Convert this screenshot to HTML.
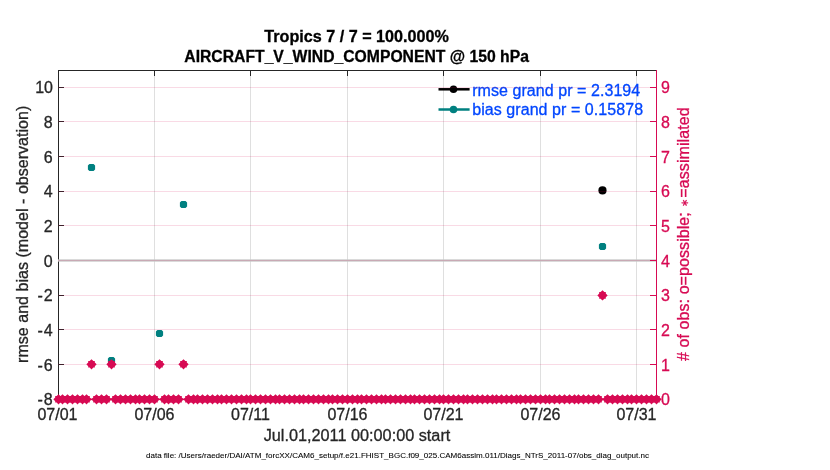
<!DOCTYPE html>
<html><head><meta charset="utf-8"><title>AIRCRAFT_V_WIND_COMPONENT @ 150 hPa</title>
<style>html,body{margin:0;padding:0;background:#fff;width:830px;height:470px;overflow:hidden}svg{display:block;will-change:transform}</style>
</head><body>
<svg width="830" height="470" viewBox="0 0 830 470" font-family='"Liberation Sans", Arial, Helvetica, sans-serif'><rect x="154" y="71" width="1" height="327" fill="#dfdfdf"/>
<rect x="250" y="71" width="1" height="327" fill="#dfdfdf"/>
<rect x="347" y="71" width="1" height="327" fill="#dfdfdf"/>
<rect x="443" y="71" width="1" height="327" fill="#dfdfdf"/>
<rect x="540" y="71" width="1" height="327" fill="#dfdfdf"/>
<rect x="636" y="71" width="1" height="327" fill="#dfdfdf"/>
<rect x="58" y="70" width="598" height="1" fill="#262626"/>
<rect x="58" y="70" width="1" height="329" fill="#262626"/>
<rect x="59" y="87" width="5" height="1" fill="#262626"/>
<rect x="59" y="121" width="5" height="1" fill="#262626"/>
<rect x="59" y="156" width="5" height="1" fill="#262626"/>
<rect x="59" y="191" width="5" height="1" fill="#262626"/>
<rect x="59" y="225" width="5" height="1" fill="#262626"/>
<rect x="59" y="260" width="5" height="1" fill="#262626"/>
<rect x="59" y="295" width="5" height="1" fill="#262626"/>
<rect x="59" y="329" width="5" height="1" fill="#262626"/>
<rect x="59" y="364" width="5" height="1" fill="#262626"/>
<rect x="154" y="71" width="1" height="5" fill="#262626"/>
<rect x="250" y="71" width="1" height="5" fill="#262626"/>
<rect x="347" y="71" width="1" height="5" fill="#262626"/>
<rect x="443" y="71" width="1" height="5" fill="#262626"/>
<rect x="540" y="71" width="1" height="5" fill="#262626"/>
<rect x="636" y="71" width="1" height="5" fill="#262626"/>
<rect x="58" y="259.36" width="598" height="2.28" fill="#c6c6c6"/>
<circle cx="602.5" cy="190.4" r="4.1" fill="#000"/>
<path d="M89.41 163.90L93.59 163.90L95.10 165.41L95.10 169.59L93.59 171.10L89.41 171.10L87.90 169.59L87.90 165.41Z" fill="#008080"/>
<path d="M109.41 356.90L113.59 356.90L115.10 358.41L115.10 362.59L113.59 364.10L109.41 364.10L107.90 362.59L107.90 358.41Z" fill="#008080"/>
<path d="M157.41 329.90L161.59 329.90L163.10 331.41L163.10 335.59L161.59 337.10L157.41 337.10L155.90 335.59L155.90 331.41Z" fill="#008080"/>
<path d="M181.41 200.90L185.59 200.90L187.10 202.41L187.10 206.59L185.59 208.10L181.41 208.10L179.90 206.59L179.90 202.41Z" fill="#008080"/>
<path d="M600.41 242.90L604.59 242.90L606.10 244.41L606.10 248.59L604.59 250.10L600.41 250.10L598.90 248.59L598.90 244.41Z" fill="#008080"/>
<rect x="438.5" y="88.05" width="31.1" height="2.5" fill="#000"/>
<circle cx="453.5" cy="89.3" r="3.8" fill="#000"/>
<rect x="438.5" y="108.25" width="31.1" height="2.5" fill="#008080"/>
<circle cx="453.5" cy="109.5" r="3.8" fill="#008080"/>
<text x="472.2" y="95.8" fill="#0046ff" stroke="#0046ff" stroke-width="0.3" font-size="16" textLength="168.0" lengthAdjust="spacing">rmse grand pr = 2.3194</text>
<text x="472.2" y="114.9" fill="#0046ff" stroke="#0046ff" stroke-width="0.3" font-size="16" textLength="170.9" lengthAdjust="spacing">bias grand pr = 0.15878</text>
<rect x="58" y="87" width="598" height="1" fill="#d70a53" fill-opacity="0.15"/>
<rect x="58" y="121" width="598" height="1" fill="#d70a53" fill-opacity="0.15"/>
<rect x="58" y="156" width="598" height="1" fill="#d70a53" fill-opacity="0.15"/>
<rect x="58" y="191" width="598" height="1" fill="#d70a53" fill-opacity="0.15"/>
<rect x="58" y="225" width="598" height="1" fill="#d70a53" fill-opacity="0.15"/>
<rect x="58" y="260" width="598" height="1" fill="#d70a53" fill-opacity="0.15"/>
<rect x="58" y="295" width="598" height="1" fill="#d70a53" fill-opacity="0.15"/>
<rect x="58" y="329" width="598" height="1" fill="#d70a53" fill-opacity="0.15"/>
<rect x="58" y="364" width="598" height="1" fill="#d70a53" fill-opacity="0.15"/>
<path d="M58.50 394.15L60.35 396.00L61.80 396.00L61.80 397.45L63.65 399.30L61.80 401.15L61.80 402.60L60.35 402.60L58.50 404.45L56.65 402.60L55.20 402.60L55.20 401.15L53.35 399.30L55.20 397.45L55.20 396.00L56.65 396.00Z" fill="#d70a53"/>
<path d="M62.50 394.15L64.35 396.00L65.80 396.00L65.80 397.45L67.65 399.30L65.80 401.15L65.80 402.60L64.35 402.60L62.50 404.45L60.65 402.60L59.20 402.60L59.20 401.15L57.35 399.30L59.20 397.45L59.20 396.00L60.65 396.00Z" fill="#d70a53"/>
<path d="M67.50 394.15L69.35 396.00L70.80 396.00L70.80 397.45L72.65 399.30L70.80 401.15L70.80 402.60L69.35 402.60L67.50 404.45L65.65 402.60L64.20 402.60L64.20 401.15L62.35 399.30L64.20 397.45L64.20 396.00L65.65 396.00Z" fill="#d70a53"/>
<path d="M72.50 394.15L74.35 396.00L75.80 396.00L75.80 397.45L77.65 399.30L75.80 401.15L75.80 402.60L74.35 402.60L72.50 404.45L70.65 402.60L69.20 402.60L69.20 401.15L67.35 399.30L69.20 397.45L69.20 396.00L70.65 396.00Z" fill="#d70a53"/>
<path d="M77.50 394.15L79.35 396.00L80.80 396.00L80.80 397.45L82.65 399.30L80.80 401.15L80.80 402.60L79.35 402.60L77.50 404.45L75.65 402.60L74.20 402.60L74.20 401.15L72.35 399.30L74.20 397.45L74.20 396.00L75.65 396.00Z" fill="#d70a53"/>
<path d="M82.50 394.15L84.35 396.00L85.80 396.00L85.80 397.45L87.65 399.30L85.80 401.15L85.80 402.60L84.35 402.60L82.50 404.45L80.65 402.60L79.20 402.60L79.20 401.15L77.35 399.30L79.20 397.45L79.20 396.00L80.65 396.00Z" fill="#d70a53"/>
<path d="M86.50 394.15L88.35 396.00L89.80 396.00L89.80 397.45L91.65 399.30L89.80 401.15L89.80 402.60L88.35 402.60L86.50 404.45L84.65 402.60L83.20 402.60L83.20 401.15L81.35 399.30L83.20 397.45L83.20 396.00L84.65 396.00Z" fill="#d70a53"/>
<path d="M91.50 359.15L93.35 361.00L94.80 361.00L94.80 362.45L96.65 364.30L94.80 366.15L94.80 367.60L93.35 367.60L91.50 369.45L89.65 367.60L88.20 367.60L88.20 366.15L86.35 364.30L88.20 362.45L88.20 361.00L89.65 361.00Z" fill="#d70a53"/>
<path d="M96.50 394.15L98.35 396.00L99.80 396.00L99.80 397.45L101.65 399.30L99.80 401.15L99.80 402.60L98.35 402.60L96.50 404.45L94.65 402.60L93.20 402.60L93.20 401.15L91.35 399.30L93.20 397.45L93.20 396.00L94.65 396.00Z" fill="#d70a53"/>
<path d="M101.50 394.15L103.35 396.00L104.80 396.00L104.80 397.45L106.65 399.30L104.80 401.15L104.80 402.60L103.35 402.60L101.50 404.45L99.65 402.60L98.20 402.60L98.20 401.15L96.35 399.30L98.20 397.45L98.20 396.00L99.65 396.00Z" fill="#d70a53"/>
<path d="M106.50 394.15L108.35 396.00L109.80 396.00L109.80 397.45L111.65 399.30L109.80 401.15L109.80 402.60L108.35 402.60L106.50 404.45L104.65 402.60L103.20 402.60L103.20 401.15L101.35 399.30L103.20 397.45L103.20 396.00L104.65 396.00Z" fill="#d70a53"/>
<path d="M111.50 359.15L113.35 361.00L114.80 361.00L114.80 362.45L116.65 364.30L114.80 366.15L114.80 367.60L113.35 367.60L111.50 369.45L109.65 367.60L108.20 367.60L108.20 366.15L106.35 364.30L108.20 362.45L108.20 361.00L109.65 361.00Z" fill="#d70a53"/>
<path d="M115.50 394.15L117.35 396.00L118.80 396.00L118.80 397.45L120.65 399.30L118.80 401.15L118.80 402.60L117.35 402.60L115.50 404.45L113.65 402.60L112.20 402.60L112.20 401.15L110.35 399.30L112.20 397.45L112.20 396.00L113.65 396.00Z" fill="#d70a53"/>
<path d="M120.50 394.15L122.35 396.00L123.80 396.00L123.80 397.45L125.65 399.30L123.80 401.15L123.80 402.60L122.35 402.60L120.50 404.45L118.65 402.60L117.20 402.60L117.20 401.15L115.35 399.30L117.20 397.45L117.20 396.00L118.65 396.00Z" fill="#d70a53"/>
<path d="M125.50 394.15L127.35 396.00L128.80 396.00L128.80 397.45L130.65 399.30L128.80 401.15L128.80 402.60L127.35 402.60L125.50 404.45L123.65 402.60L122.20 402.60L122.20 401.15L120.35 399.30L122.20 397.45L122.20 396.00L123.65 396.00Z" fill="#d70a53"/>
<path d="M130.50 394.15L132.35 396.00L133.80 396.00L133.80 397.45L135.65 399.30L133.80 401.15L133.80 402.60L132.35 402.60L130.50 404.45L128.65 402.60L127.20 402.60L127.20 401.15L125.35 399.30L127.20 397.45L127.20 396.00L128.65 396.00Z" fill="#d70a53"/>
<path d="M135.50 394.15L137.35 396.00L138.80 396.00L138.80 397.45L140.65 399.30L138.80 401.15L138.80 402.60L137.35 402.60L135.50 404.45L133.65 402.60L132.20 402.60L132.20 401.15L130.35 399.30L132.20 397.45L132.20 396.00L133.65 396.00Z" fill="#d70a53"/>
<path d="M139.50 394.15L141.35 396.00L142.80 396.00L142.80 397.45L144.65 399.30L142.80 401.15L142.80 402.60L141.35 402.60L139.50 404.45L137.65 402.60L136.20 402.60L136.20 401.15L134.35 399.30L136.20 397.45L136.20 396.00L137.65 396.00Z" fill="#d70a53"/>
<path d="M144.50 394.15L146.35 396.00L147.80 396.00L147.80 397.45L149.65 399.30L147.80 401.15L147.80 402.60L146.35 402.60L144.50 404.45L142.65 402.60L141.20 402.60L141.20 401.15L139.35 399.30L141.20 397.45L141.20 396.00L142.65 396.00Z" fill="#d70a53"/>
<path d="M149.50 394.15L151.35 396.00L152.80 396.00L152.80 397.45L154.65 399.30L152.80 401.15L152.80 402.60L151.35 402.60L149.50 404.45L147.65 402.60L146.20 402.60L146.20 401.15L144.35 399.30L146.20 397.45L146.20 396.00L147.65 396.00Z" fill="#d70a53"/>
<path d="M154.50 394.15L156.35 396.00L157.80 396.00L157.80 397.45L159.65 399.30L157.80 401.15L157.80 402.60L156.35 402.60L154.50 404.45L152.65 402.60L151.20 402.60L151.20 401.15L149.35 399.30L151.20 397.45L151.20 396.00L152.65 396.00Z" fill="#d70a53"/>
<path d="M159.50 359.15L161.35 361.00L162.80 361.00L162.80 362.45L164.65 364.30L162.80 366.15L162.80 367.60L161.35 367.60L159.50 369.45L157.65 367.60L156.20 367.60L156.20 366.15L154.35 364.30L156.20 362.45L156.20 361.00L157.65 361.00Z" fill="#d70a53"/>
<path d="M164.50 394.15L166.35 396.00L167.80 396.00L167.80 397.45L169.65 399.30L167.80 401.15L167.80 402.60L166.35 402.60L164.50 404.45L162.65 402.60L161.20 402.60L161.20 401.15L159.35 399.30L161.20 397.45L161.20 396.00L162.65 396.00Z" fill="#d70a53"/>
<path d="M168.50 394.15L170.35 396.00L171.80 396.00L171.80 397.45L173.65 399.30L171.80 401.15L171.80 402.60L170.35 402.60L168.50 404.45L166.65 402.60L165.20 402.60L165.20 401.15L163.35 399.30L165.20 397.45L165.20 396.00L166.65 396.00Z" fill="#d70a53"/>
<path d="M173.50 394.15L175.35 396.00L176.80 396.00L176.80 397.45L178.65 399.30L176.80 401.15L176.80 402.60L175.35 402.60L173.50 404.45L171.65 402.60L170.20 402.60L170.20 401.15L168.35 399.30L170.20 397.45L170.20 396.00L171.65 396.00Z" fill="#d70a53"/>
<path d="M178.50 394.15L180.35 396.00L181.80 396.00L181.80 397.45L183.65 399.30L181.80 401.15L181.80 402.60L180.35 402.60L178.50 404.45L176.65 402.60L175.20 402.60L175.20 401.15L173.35 399.30L175.20 397.45L175.20 396.00L176.65 396.00Z" fill="#d70a53"/>
<path d="M183.50 359.15L185.35 361.00L186.80 361.00L186.80 362.45L188.65 364.30L186.80 366.15L186.80 367.60L185.35 367.60L183.50 369.45L181.65 367.60L180.20 367.60L180.20 366.15L178.35 364.30L180.20 362.45L180.20 361.00L181.65 361.00Z" fill="#d70a53"/>
<path d="M188.50 394.15L190.35 396.00L191.80 396.00L191.80 397.45L193.65 399.30L191.80 401.15L191.80 402.60L190.35 402.60L188.50 404.45L186.65 402.60L185.20 402.60L185.20 401.15L183.35 399.30L185.20 397.45L185.20 396.00L186.65 396.00Z" fill="#d70a53"/>
<path d="M193.50 394.15L195.35 396.00L196.80 396.00L196.80 397.45L198.65 399.30L196.80 401.15L196.80 402.60L195.35 402.60L193.50 404.45L191.65 402.60L190.20 402.60L190.20 401.15L188.35 399.30L190.20 397.45L190.20 396.00L191.65 396.00Z" fill="#d70a53"/>
<path d="M197.50 394.15L199.35 396.00L200.80 396.00L200.80 397.45L202.65 399.30L200.80 401.15L200.80 402.60L199.35 402.60L197.50 404.45L195.65 402.60L194.20 402.60L194.20 401.15L192.35 399.30L194.20 397.45L194.20 396.00L195.65 396.00Z" fill="#d70a53"/>
<path d="M202.50 394.15L204.35 396.00L205.80 396.00L205.80 397.45L207.65 399.30L205.80 401.15L205.80 402.60L204.35 402.60L202.50 404.45L200.65 402.60L199.20 402.60L199.20 401.15L197.35 399.30L199.20 397.45L199.20 396.00L200.65 396.00Z" fill="#d70a53"/>
<path d="M207.50 394.15L209.35 396.00L210.80 396.00L210.80 397.45L212.65 399.30L210.80 401.15L210.80 402.60L209.35 402.60L207.50 404.45L205.65 402.60L204.20 402.60L204.20 401.15L202.35 399.30L204.20 397.45L204.20 396.00L205.65 396.00Z" fill="#d70a53"/>
<path d="M212.50 394.15L214.35 396.00L215.80 396.00L215.80 397.45L217.65 399.30L215.80 401.15L215.80 402.60L214.35 402.60L212.50 404.45L210.65 402.60L209.20 402.60L209.20 401.15L207.35 399.30L209.20 397.45L209.20 396.00L210.65 396.00Z" fill="#d70a53"/>
<path d="M217.50 394.15L219.35 396.00L220.80 396.00L220.80 397.45L222.65 399.30L220.80 401.15L220.80 402.60L219.35 402.60L217.50 404.45L215.65 402.60L214.20 402.60L214.20 401.15L212.35 399.30L214.20 397.45L214.20 396.00L215.65 396.00Z" fill="#d70a53"/>
<path d="M221.50 394.15L223.35 396.00L224.80 396.00L224.80 397.45L226.65 399.30L224.80 401.15L224.80 402.60L223.35 402.60L221.50 404.45L219.65 402.60L218.20 402.60L218.20 401.15L216.35 399.30L218.20 397.45L218.20 396.00L219.65 396.00Z" fill="#d70a53"/>
<path d="M226.50 394.15L228.35 396.00L229.80 396.00L229.80 397.45L231.65 399.30L229.80 401.15L229.80 402.60L228.35 402.60L226.50 404.45L224.65 402.60L223.20 402.60L223.20 401.15L221.35 399.30L223.20 397.45L223.20 396.00L224.65 396.00Z" fill="#d70a53"/>
<path d="M231.50 394.15L233.35 396.00L234.80 396.00L234.80 397.45L236.65 399.30L234.80 401.15L234.80 402.60L233.35 402.60L231.50 404.45L229.65 402.60L228.20 402.60L228.20 401.15L226.35 399.30L228.20 397.45L228.20 396.00L229.65 396.00Z" fill="#d70a53"/>
<path d="M236.50 394.15L238.35 396.00L239.80 396.00L239.80 397.45L241.65 399.30L239.80 401.15L239.80 402.60L238.35 402.60L236.50 404.45L234.65 402.60L233.20 402.60L233.20 401.15L231.35 399.30L233.20 397.45L233.20 396.00L234.65 396.00Z" fill="#d70a53"/>
<path d="M241.50 394.15L243.35 396.00L244.80 396.00L244.80 397.45L246.65 399.30L244.80 401.15L244.80 402.60L243.35 402.60L241.50 404.45L239.65 402.60L238.20 402.60L238.20 401.15L236.35 399.30L238.20 397.45L238.20 396.00L239.65 396.00Z" fill="#d70a53"/>
<path d="M246.50 394.15L248.35 396.00L249.80 396.00L249.80 397.45L251.65 399.30L249.80 401.15L249.80 402.60L248.35 402.60L246.50 404.45L244.65 402.60L243.20 402.60L243.20 401.15L241.35 399.30L243.20 397.45L243.20 396.00L244.65 396.00Z" fill="#d70a53"/>
<path d="M250.50 394.15L252.35 396.00L253.80 396.00L253.80 397.45L255.65 399.30L253.80 401.15L253.80 402.60L252.35 402.60L250.50 404.45L248.65 402.60L247.20 402.60L247.20 401.15L245.35 399.30L247.20 397.45L247.20 396.00L248.65 396.00Z" fill="#d70a53"/>
<path d="M255.50 394.15L257.35 396.00L258.80 396.00L258.80 397.45L260.65 399.30L258.80 401.15L258.80 402.60L257.35 402.60L255.50 404.45L253.65 402.60L252.20 402.60L252.20 401.15L250.35 399.30L252.20 397.45L252.20 396.00L253.65 396.00Z" fill="#d70a53"/>
<path d="M260.50 394.15L262.35 396.00L263.80 396.00L263.80 397.45L265.65 399.30L263.80 401.15L263.80 402.60L262.35 402.60L260.50 404.45L258.65 402.60L257.20 402.60L257.20 401.15L255.35 399.30L257.20 397.45L257.20 396.00L258.65 396.00Z" fill="#d70a53"/>
<path d="M265.50 394.15L267.35 396.00L268.80 396.00L268.80 397.45L270.65 399.30L268.80 401.15L268.80 402.60L267.35 402.60L265.50 404.45L263.65 402.60L262.20 402.60L262.20 401.15L260.35 399.30L262.20 397.45L262.20 396.00L263.65 396.00Z" fill="#d70a53"/>
<path d="M270.50 394.15L272.35 396.00L273.80 396.00L273.80 397.45L275.65 399.30L273.80 401.15L273.80 402.60L272.35 402.60L270.50 404.45L268.65 402.60L267.20 402.60L267.20 401.15L265.35 399.30L267.20 397.45L267.20 396.00L268.65 396.00Z" fill="#d70a53"/>
<path d="M275.50 394.15L277.35 396.00L278.80 396.00L278.80 397.45L280.65 399.30L278.80 401.15L278.80 402.60L277.35 402.60L275.50 404.45L273.65 402.60L272.20 402.60L272.20 401.15L270.35 399.30L272.20 397.45L272.20 396.00L273.65 396.00Z" fill="#d70a53"/>
<path d="M279.50 394.15L281.35 396.00L282.80 396.00L282.80 397.45L284.65 399.30L282.80 401.15L282.80 402.60L281.35 402.60L279.50 404.45L277.65 402.60L276.20 402.60L276.20 401.15L274.35 399.30L276.20 397.45L276.20 396.00L277.65 396.00Z" fill="#d70a53"/>
<path d="M284.50 394.15L286.35 396.00L287.80 396.00L287.80 397.45L289.65 399.30L287.80 401.15L287.80 402.60L286.35 402.60L284.50 404.45L282.65 402.60L281.20 402.60L281.20 401.15L279.35 399.30L281.20 397.45L281.20 396.00L282.65 396.00Z" fill="#d70a53"/>
<path d="M289.50 394.15L291.35 396.00L292.80 396.00L292.80 397.45L294.65 399.30L292.80 401.15L292.80 402.60L291.35 402.60L289.50 404.45L287.65 402.60L286.20 402.60L286.20 401.15L284.35 399.30L286.20 397.45L286.20 396.00L287.65 396.00Z" fill="#d70a53"/>
<path d="M294.50 394.15L296.35 396.00L297.80 396.00L297.80 397.45L299.65 399.30L297.80 401.15L297.80 402.60L296.35 402.60L294.50 404.45L292.65 402.60L291.20 402.60L291.20 401.15L289.35 399.30L291.20 397.45L291.20 396.00L292.65 396.00Z" fill="#d70a53"/>
<path d="M299.50 394.15L301.35 396.00L302.80 396.00L302.80 397.45L304.65 399.30L302.80 401.15L302.80 402.60L301.35 402.60L299.50 404.45L297.65 402.60L296.20 402.60L296.20 401.15L294.35 399.30L296.20 397.45L296.20 396.00L297.65 396.00Z" fill="#d70a53"/>
<path d="M303.50 394.15L305.35 396.00L306.80 396.00L306.80 397.45L308.65 399.30L306.80 401.15L306.80 402.60L305.35 402.60L303.50 404.45L301.65 402.60L300.20 402.60L300.20 401.15L298.35 399.30L300.20 397.45L300.20 396.00L301.65 396.00Z" fill="#d70a53"/>
<path d="M308.50 394.15L310.35 396.00L311.80 396.00L311.80 397.45L313.65 399.30L311.80 401.15L311.80 402.60L310.35 402.60L308.50 404.45L306.65 402.60L305.20 402.60L305.20 401.15L303.35 399.30L305.20 397.45L305.20 396.00L306.65 396.00Z" fill="#d70a53"/>
<path d="M313.50 394.15L315.35 396.00L316.80 396.00L316.80 397.45L318.65 399.30L316.80 401.15L316.80 402.60L315.35 402.60L313.50 404.45L311.65 402.60L310.20 402.60L310.20 401.15L308.35 399.30L310.20 397.45L310.20 396.00L311.65 396.00Z" fill="#d70a53"/>
<path d="M318.50 394.15L320.35 396.00L321.80 396.00L321.80 397.45L323.65 399.30L321.80 401.15L321.80 402.60L320.35 402.60L318.50 404.45L316.65 402.60L315.20 402.60L315.20 401.15L313.35 399.30L315.20 397.45L315.20 396.00L316.65 396.00Z" fill="#d70a53"/>
<path d="M323.50 394.15L325.35 396.00L326.80 396.00L326.80 397.45L328.65 399.30L326.80 401.15L326.80 402.60L325.35 402.60L323.50 404.45L321.65 402.60L320.20 402.60L320.20 401.15L318.35 399.30L320.20 397.45L320.20 396.00L321.65 396.00Z" fill="#d70a53"/>
<path d="M328.50 394.15L330.35 396.00L331.80 396.00L331.80 397.45L333.65 399.30L331.80 401.15L331.80 402.60L330.35 402.60L328.50 404.45L326.65 402.60L325.20 402.60L325.20 401.15L323.35 399.30L325.20 397.45L325.20 396.00L326.65 396.00Z" fill="#d70a53"/>
<path d="M332.50 394.15L334.35 396.00L335.80 396.00L335.80 397.45L337.65 399.30L335.80 401.15L335.80 402.60L334.35 402.60L332.50 404.45L330.65 402.60L329.20 402.60L329.20 401.15L327.35 399.30L329.20 397.45L329.20 396.00L330.65 396.00Z" fill="#d70a53"/>
<path d="M337.50 394.15L339.35 396.00L340.80 396.00L340.80 397.45L342.65 399.30L340.80 401.15L340.80 402.60L339.35 402.60L337.50 404.45L335.65 402.60L334.20 402.60L334.20 401.15L332.35 399.30L334.20 397.45L334.20 396.00L335.65 396.00Z" fill="#d70a53"/>
<path d="M342.50 394.15L344.35 396.00L345.80 396.00L345.80 397.45L347.65 399.30L345.80 401.15L345.80 402.60L344.35 402.60L342.50 404.45L340.65 402.60L339.20 402.60L339.20 401.15L337.35 399.30L339.20 397.45L339.20 396.00L340.65 396.00Z" fill="#d70a53"/>
<path d="M347.50 394.15L349.35 396.00L350.80 396.00L350.80 397.45L352.65 399.30L350.80 401.15L350.80 402.60L349.35 402.60L347.50 404.45L345.65 402.60L344.20 402.60L344.20 401.15L342.35 399.30L344.20 397.45L344.20 396.00L345.65 396.00Z" fill="#d70a53"/>
<path d="M352.50 394.15L354.35 396.00L355.80 396.00L355.80 397.45L357.65 399.30L355.80 401.15L355.80 402.60L354.35 402.60L352.50 404.45L350.65 402.60L349.20 402.60L349.20 401.15L347.35 399.30L349.20 397.45L349.20 396.00L350.65 396.00Z" fill="#d70a53"/>
<path d="M357.50 394.15L359.35 396.00L360.80 396.00L360.80 397.45L362.65 399.30L360.80 401.15L360.80 402.60L359.35 402.60L357.50 404.45L355.65 402.60L354.20 402.60L354.20 401.15L352.35 399.30L354.20 397.45L354.20 396.00L355.65 396.00Z" fill="#d70a53"/>
<path d="M361.50 394.15L363.35 396.00L364.80 396.00L364.80 397.45L366.65 399.30L364.80 401.15L364.80 402.60L363.35 402.60L361.50 404.45L359.65 402.60L358.20 402.60L358.20 401.15L356.35 399.30L358.20 397.45L358.20 396.00L359.65 396.00Z" fill="#d70a53"/>
<path d="M366.50 394.15L368.35 396.00L369.80 396.00L369.80 397.45L371.65 399.30L369.80 401.15L369.80 402.60L368.35 402.60L366.50 404.45L364.65 402.60L363.20 402.60L363.20 401.15L361.35 399.30L363.20 397.45L363.20 396.00L364.65 396.00Z" fill="#d70a53"/>
<path d="M371.50 394.15L373.35 396.00L374.80 396.00L374.80 397.45L376.65 399.30L374.80 401.15L374.80 402.60L373.35 402.60L371.50 404.45L369.65 402.60L368.20 402.60L368.20 401.15L366.35 399.30L368.20 397.45L368.20 396.00L369.65 396.00Z" fill="#d70a53"/>
<path d="M376.50 394.15L378.35 396.00L379.80 396.00L379.80 397.45L381.65 399.30L379.80 401.15L379.80 402.60L378.35 402.60L376.50 404.45L374.65 402.60L373.20 402.60L373.20 401.15L371.35 399.30L373.20 397.45L373.20 396.00L374.65 396.00Z" fill="#d70a53"/>
<path d="M381.50 394.15L383.35 396.00L384.80 396.00L384.80 397.45L386.65 399.30L384.80 401.15L384.80 402.60L383.35 402.60L381.50 404.45L379.65 402.60L378.20 402.60L378.20 401.15L376.35 399.30L378.20 397.45L378.20 396.00L379.65 396.00Z" fill="#d70a53"/>
<path d="M385.50 394.15L387.35 396.00L388.80 396.00L388.80 397.45L390.65 399.30L388.80 401.15L388.80 402.60L387.35 402.60L385.50 404.45L383.65 402.60L382.20 402.60L382.20 401.15L380.35 399.30L382.20 397.45L382.20 396.00L383.65 396.00Z" fill="#d70a53"/>
<path d="M390.50 394.15L392.35 396.00L393.80 396.00L393.80 397.45L395.65 399.30L393.80 401.15L393.80 402.60L392.35 402.60L390.50 404.45L388.65 402.60L387.20 402.60L387.20 401.15L385.35 399.30L387.20 397.45L387.20 396.00L388.65 396.00Z" fill="#d70a53"/>
<path d="M395.50 394.15L397.35 396.00L398.80 396.00L398.80 397.45L400.65 399.30L398.80 401.15L398.80 402.60L397.35 402.60L395.50 404.45L393.65 402.60L392.20 402.60L392.20 401.15L390.35 399.30L392.20 397.45L392.20 396.00L393.65 396.00Z" fill="#d70a53"/>
<path d="M400.50 394.15L402.35 396.00L403.80 396.00L403.80 397.45L405.65 399.30L403.80 401.15L403.80 402.60L402.35 402.60L400.50 404.45L398.65 402.60L397.20 402.60L397.20 401.15L395.35 399.30L397.20 397.45L397.20 396.00L398.65 396.00Z" fill="#d70a53"/>
<path d="M405.50 394.15L407.35 396.00L408.80 396.00L408.80 397.45L410.65 399.30L408.80 401.15L408.80 402.60L407.35 402.60L405.50 404.45L403.65 402.60L402.20 402.60L402.20 401.15L400.35 399.30L402.20 397.45L402.20 396.00L403.65 396.00Z" fill="#d70a53"/>
<path d="M410.50 394.15L412.35 396.00L413.80 396.00L413.80 397.45L415.65 399.30L413.80 401.15L413.80 402.60L412.35 402.60L410.50 404.45L408.65 402.60L407.20 402.60L407.20 401.15L405.35 399.30L407.20 397.45L407.20 396.00L408.65 396.00Z" fill="#d70a53"/>
<path d="M414.50 394.15L416.35 396.00L417.80 396.00L417.80 397.45L419.65 399.30L417.80 401.15L417.80 402.60L416.35 402.60L414.50 404.45L412.65 402.60L411.20 402.60L411.20 401.15L409.35 399.30L411.20 397.45L411.20 396.00L412.65 396.00Z" fill="#d70a53"/>
<path d="M419.50 394.15L421.35 396.00L422.80 396.00L422.80 397.45L424.65 399.30L422.80 401.15L422.80 402.60L421.35 402.60L419.50 404.45L417.65 402.60L416.20 402.60L416.20 401.15L414.35 399.30L416.20 397.45L416.20 396.00L417.65 396.00Z" fill="#d70a53"/>
<path d="M424.50 394.15L426.35 396.00L427.80 396.00L427.80 397.45L429.65 399.30L427.80 401.15L427.80 402.60L426.35 402.60L424.50 404.45L422.65 402.60L421.20 402.60L421.20 401.15L419.35 399.30L421.20 397.45L421.20 396.00L422.65 396.00Z" fill="#d70a53"/>
<path d="M429.50 394.15L431.35 396.00L432.80 396.00L432.80 397.45L434.65 399.30L432.80 401.15L432.80 402.60L431.35 402.60L429.50 404.45L427.65 402.60L426.20 402.60L426.20 401.15L424.35 399.30L426.20 397.45L426.20 396.00L427.65 396.00Z" fill="#d70a53"/>
<path d="M434.50 394.15L436.35 396.00L437.80 396.00L437.80 397.45L439.65 399.30L437.80 401.15L437.80 402.60L436.35 402.60L434.50 404.45L432.65 402.60L431.20 402.60L431.20 401.15L429.35 399.30L431.20 397.45L431.20 396.00L432.65 396.00Z" fill="#d70a53"/>
<path d="M439.50 394.15L441.35 396.00L442.80 396.00L442.80 397.45L444.65 399.30L442.80 401.15L442.80 402.60L441.35 402.60L439.50 404.45L437.65 402.60L436.20 402.60L436.20 401.15L434.35 399.30L436.20 397.45L436.20 396.00L437.65 396.00Z" fill="#d70a53"/>
<path d="M443.50 394.15L445.35 396.00L446.80 396.00L446.80 397.45L448.65 399.30L446.80 401.15L446.80 402.60L445.35 402.60L443.50 404.45L441.65 402.60L440.20 402.60L440.20 401.15L438.35 399.30L440.20 397.45L440.20 396.00L441.65 396.00Z" fill="#d70a53"/>
<path d="M448.50 394.15L450.35 396.00L451.80 396.00L451.80 397.45L453.65 399.30L451.80 401.15L451.80 402.60L450.35 402.60L448.50 404.45L446.65 402.60L445.20 402.60L445.20 401.15L443.35 399.30L445.20 397.45L445.20 396.00L446.65 396.00Z" fill="#d70a53"/>
<path d="M453.50 394.15L455.35 396.00L456.80 396.00L456.80 397.45L458.65 399.30L456.80 401.15L456.80 402.60L455.35 402.60L453.50 404.45L451.65 402.60L450.20 402.60L450.20 401.15L448.35 399.30L450.20 397.45L450.20 396.00L451.65 396.00Z" fill="#d70a53"/>
<path d="M458.50 394.15L460.35 396.00L461.80 396.00L461.80 397.45L463.65 399.30L461.80 401.15L461.80 402.60L460.35 402.60L458.50 404.45L456.65 402.60L455.20 402.60L455.20 401.15L453.35 399.30L455.20 397.45L455.20 396.00L456.65 396.00Z" fill="#d70a53"/>
<path d="M463.50 394.15L465.35 396.00L466.80 396.00L466.80 397.45L468.65 399.30L466.80 401.15L466.80 402.60L465.35 402.60L463.50 404.45L461.65 402.60L460.20 402.60L460.20 401.15L458.35 399.30L460.20 397.45L460.20 396.00L461.65 396.00Z" fill="#d70a53"/>
<path d="M467.50 394.15L469.35 396.00L470.80 396.00L470.80 397.45L472.65 399.30L470.80 401.15L470.80 402.60L469.35 402.60L467.50 404.45L465.65 402.60L464.20 402.60L464.20 401.15L462.35 399.30L464.20 397.45L464.20 396.00L465.65 396.00Z" fill="#d70a53"/>
<path d="M472.50 394.15L474.35 396.00L475.80 396.00L475.80 397.45L477.65 399.30L475.80 401.15L475.80 402.60L474.35 402.60L472.50 404.45L470.65 402.60L469.20 402.60L469.20 401.15L467.35 399.30L469.20 397.45L469.20 396.00L470.65 396.00Z" fill="#d70a53"/>
<path d="M477.50 394.15L479.35 396.00L480.80 396.00L480.80 397.45L482.65 399.30L480.80 401.15L480.80 402.60L479.35 402.60L477.50 404.45L475.65 402.60L474.20 402.60L474.20 401.15L472.35 399.30L474.20 397.45L474.20 396.00L475.65 396.00Z" fill="#d70a53"/>
<path d="M482.50 394.15L484.35 396.00L485.80 396.00L485.80 397.45L487.65 399.30L485.80 401.15L485.80 402.60L484.35 402.60L482.50 404.45L480.65 402.60L479.20 402.60L479.20 401.15L477.35 399.30L479.20 397.45L479.20 396.00L480.65 396.00Z" fill="#d70a53"/>
<path d="M487.50 394.15L489.35 396.00L490.80 396.00L490.80 397.45L492.65 399.30L490.80 401.15L490.80 402.60L489.35 402.60L487.50 404.45L485.65 402.60L484.20 402.60L484.20 401.15L482.35 399.30L484.20 397.45L484.20 396.00L485.65 396.00Z" fill="#d70a53"/>
<path d="M492.50 394.15L494.35 396.00L495.80 396.00L495.80 397.45L497.65 399.30L495.80 401.15L495.80 402.60L494.35 402.60L492.50 404.45L490.65 402.60L489.20 402.60L489.20 401.15L487.35 399.30L489.20 397.45L489.20 396.00L490.65 396.00Z" fill="#d70a53"/>
<path d="M496.50 394.15L498.35 396.00L499.80 396.00L499.80 397.45L501.65 399.30L499.80 401.15L499.80 402.60L498.35 402.60L496.50 404.45L494.65 402.60L493.20 402.60L493.20 401.15L491.35 399.30L493.20 397.45L493.20 396.00L494.65 396.00Z" fill="#d70a53"/>
<path d="M501.50 394.15L503.35 396.00L504.80 396.00L504.80 397.45L506.65 399.30L504.80 401.15L504.80 402.60L503.35 402.60L501.50 404.45L499.65 402.60L498.20 402.60L498.20 401.15L496.35 399.30L498.20 397.45L498.20 396.00L499.65 396.00Z" fill="#d70a53"/>
<path d="M506.50 394.15L508.35 396.00L509.80 396.00L509.80 397.45L511.65 399.30L509.80 401.15L509.80 402.60L508.35 402.60L506.50 404.45L504.65 402.60L503.20 402.60L503.20 401.15L501.35 399.30L503.20 397.45L503.20 396.00L504.65 396.00Z" fill="#d70a53"/>
<path d="M511.50 394.15L513.35 396.00L514.80 396.00L514.80 397.45L516.65 399.30L514.80 401.15L514.80 402.60L513.35 402.60L511.50 404.45L509.65 402.60L508.20 402.60L508.20 401.15L506.35 399.30L508.20 397.45L508.20 396.00L509.65 396.00Z" fill="#d70a53"/>
<path d="M516.50 394.15L518.35 396.00L519.80 396.00L519.80 397.45L521.65 399.30L519.80 401.15L519.80 402.60L518.35 402.60L516.50 404.45L514.65 402.60L513.20 402.60L513.20 401.15L511.35 399.30L513.20 397.45L513.20 396.00L514.65 396.00Z" fill="#d70a53"/>
<path d="M520.50 394.15L522.35 396.00L523.80 396.00L523.80 397.45L525.65 399.30L523.80 401.15L523.80 402.60L522.35 402.60L520.50 404.45L518.65 402.60L517.20 402.60L517.20 401.15L515.35 399.30L517.20 397.45L517.20 396.00L518.65 396.00Z" fill="#d70a53"/>
<path d="M525.50 394.15L527.35 396.00L528.80 396.00L528.80 397.45L530.65 399.30L528.80 401.15L528.80 402.60L527.35 402.60L525.50 404.45L523.65 402.60L522.20 402.60L522.20 401.15L520.35 399.30L522.20 397.45L522.20 396.00L523.65 396.00Z" fill="#d70a53"/>
<path d="M530.50 394.15L532.35 396.00L533.80 396.00L533.80 397.45L535.65 399.30L533.80 401.15L533.80 402.60L532.35 402.60L530.50 404.45L528.65 402.60L527.20 402.60L527.20 401.15L525.35 399.30L527.20 397.45L527.20 396.00L528.65 396.00Z" fill="#d70a53"/>
<path d="M535.50 394.15L537.35 396.00L538.80 396.00L538.80 397.45L540.65 399.30L538.80 401.15L538.80 402.60L537.35 402.60L535.50 404.45L533.65 402.60L532.20 402.60L532.20 401.15L530.35 399.30L532.20 397.45L532.20 396.00L533.65 396.00Z" fill="#d70a53"/>
<path d="M540.50 394.15L542.35 396.00L543.80 396.00L543.80 397.45L545.65 399.30L543.80 401.15L543.80 402.60L542.35 402.60L540.50 404.45L538.65 402.60L537.20 402.60L537.20 401.15L535.35 399.30L537.20 397.45L537.20 396.00L538.65 396.00Z" fill="#d70a53"/>
<path d="M545.50 394.15L547.35 396.00L548.80 396.00L548.80 397.45L550.65 399.30L548.80 401.15L548.80 402.60L547.35 402.60L545.50 404.45L543.65 402.60L542.20 402.60L542.20 401.15L540.35 399.30L542.20 397.45L542.20 396.00L543.65 396.00Z" fill="#d70a53"/>
<path d="M549.50 394.15L551.35 396.00L552.80 396.00L552.80 397.45L554.65 399.30L552.80 401.15L552.80 402.60L551.35 402.60L549.50 404.45L547.65 402.60L546.20 402.60L546.20 401.15L544.35 399.30L546.20 397.45L546.20 396.00L547.65 396.00Z" fill="#d70a53"/>
<path d="M554.50 394.15L556.35 396.00L557.80 396.00L557.80 397.45L559.65 399.30L557.80 401.15L557.80 402.60L556.35 402.60L554.50 404.45L552.65 402.60L551.20 402.60L551.20 401.15L549.35 399.30L551.20 397.45L551.20 396.00L552.65 396.00Z" fill="#d70a53"/>
<path d="M559.50 394.15L561.35 396.00L562.80 396.00L562.80 397.45L564.65 399.30L562.80 401.15L562.80 402.60L561.35 402.60L559.50 404.45L557.65 402.60L556.20 402.60L556.20 401.15L554.35 399.30L556.20 397.45L556.20 396.00L557.65 396.00Z" fill="#d70a53"/>
<path d="M564.50 394.15L566.35 396.00L567.80 396.00L567.80 397.45L569.65 399.30L567.80 401.15L567.80 402.60L566.35 402.60L564.50 404.45L562.65 402.60L561.20 402.60L561.20 401.15L559.35 399.30L561.20 397.45L561.20 396.00L562.65 396.00Z" fill="#d70a53"/>
<path d="M569.50 394.15L571.35 396.00L572.80 396.00L572.80 397.45L574.65 399.30L572.80 401.15L572.80 402.60L571.35 402.60L569.50 404.45L567.65 402.60L566.20 402.60L566.20 401.15L564.35 399.30L566.20 397.45L566.20 396.00L567.65 396.00Z" fill="#d70a53"/>
<path d="M574.50 394.15L576.35 396.00L577.80 396.00L577.80 397.45L579.65 399.30L577.80 401.15L577.80 402.60L576.35 402.60L574.50 404.45L572.65 402.60L571.20 402.60L571.20 401.15L569.35 399.30L571.20 397.45L571.20 396.00L572.65 396.00Z" fill="#d70a53"/>
<path d="M578.50 394.15L580.35 396.00L581.80 396.00L581.80 397.45L583.65 399.30L581.80 401.15L581.80 402.60L580.35 402.60L578.50 404.45L576.65 402.60L575.20 402.60L575.20 401.15L573.35 399.30L575.20 397.45L575.20 396.00L576.65 396.00Z" fill="#d70a53"/>
<path d="M583.50 394.15L585.35 396.00L586.80 396.00L586.80 397.45L588.65 399.30L586.80 401.15L586.80 402.60L585.35 402.60L583.50 404.45L581.65 402.60L580.20 402.60L580.20 401.15L578.35 399.30L580.20 397.45L580.20 396.00L581.65 396.00Z" fill="#d70a53"/>
<path d="M588.50 394.15L590.35 396.00L591.80 396.00L591.80 397.45L593.65 399.30L591.80 401.15L591.80 402.60L590.35 402.60L588.50 404.45L586.65 402.60L585.20 402.60L585.20 401.15L583.35 399.30L585.20 397.45L585.20 396.00L586.65 396.00Z" fill="#d70a53"/>
<path d="M593.50 394.15L595.35 396.00L596.80 396.00L596.80 397.45L598.65 399.30L596.80 401.15L596.80 402.60L595.35 402.60L593.50 404.45L591.65 402.60L590.20 402.60L590.20 401.15L588.35 399.30L590.20 397.45L590.20 396.00L591.65 396.00Z" fill="#d70a53"/>
<path d="M598.50 394.15L600.35 396.00L601.80 396.00L601.80 397.45L603.65 399.30L601.80 401.15L601.80 402.60L600.35 402.60L598.50 404.45L596.65 402.60L595.20 402.60L595.20 401.15L593.35 399.30L595.20 397.45L595.20 396.00L596.65 396.00Z" fill="#d70a53"/>
<path d="M602.50 290.25L604.35 292.10L605.80 292.10L605.80 293.55L607.65 295.40L605.80 297.25L605.80 298.70L604.35 298.70L602.50 300.55L600.65 298.70L599.20 298.70L599.20 297.25L597.35 295.40L599.20 293.55L599.20 292.10L600.65 292.10Z" fill="#d70a53"/>
<path d="M607.50 394.15L609.35 396.00L610.80 396.00L610.80 397.45L612.65 399.30L610.80 401.15L610.80 402.60L609.35 402.60L607.50 404.45L605.65 402.60L604.20 402.60L604.20 401.15L602.35 399.30L604.20 397.45L604.20 396.00L605.65 396.00Z" fill="#d70a53"/>
<path d="M612.50 394.15L614.35 396.00L615.80 396.00L615.80 397.45L617.65 399.30L615.80 401.15L615.80 402.60L614.35 402.60L612.50 404.45L610.65 402.60L609.20 402.60L609.20 401.15L607.35 399.30L609.20 397.45L609.20 396.00L610.65 396.00Z" fill="#d70a53"/>
<path d="M617.50 394.15L619.35 396.00L620.80 396.00L620.80 397.45L622.65 399.30L620.80 401.15L620.80 402.60L619.35 402.60L617.50 404.45L615.65 402.60L614.20 402.60L614.20 401.15L612.35 399.30L614.20 397.45L614.20 396.00L615.65 396.00Z" fill="#d70a53"/>
<path d="M622.50 394.15L624.35 396.00L625.80 396.00L625.80 397.45L627.65 399.30L625.80 401.15L625.80 402.60L624.35 402.60L622.50 404.45L620.65 402.60L619.20 402.60L619.20 401.15L617.35 399.30L619.20 397.45L619.20 396.00L620.65 396.00Z" fill="#d70a53"/>
<path d="M627.50 394.15L629.35 396.00L630.80 396.00L630.80 397.45L632.65 399.30L630.80 401.15L630.80 402.60L629.35 402.60L627.50 404.45L625.65 402.60L624.20 402.60L624.20 401.15L622.35 399.30L624.20 397.45L624.20 396.00L625.65 396.00Z" fill="#d70a53"/>
<path d="M631.50 394.15L633.35 396.00L634.80 396.00L634.80 397.45L636.65 399.30L634.80 401.15L634.80 402.60L633.35 402.60L631.50 404.45L629.65 402.60L628.20 402.60L628.20 401.15L626.35 399.30L628.20 397.45L628.20 396.00L629.65 396.00Z" fill="#d70a53"/>
<path d="M636.50 394.15L638.35 396.00L639.80 396.00L639.80 397.45L641.65 399.30L639.80 401.15L639.80 402.60L638.35 402.60L636.50 404.45L634.65 402.60L633.20 402.60L633.20 401.15L631.35 399.30L633.20 397.45L633.20 396.00L634.65 396.00Z" fill="#d70a53"/>
<path d="M641.50 394.15L643.35 396.00L644.80 396.00L644.80 397.45L646.65 399.30L644.80 401.15L644.80 402.60L643.35 402.60L641.50 404.45L639.65 402.60L638.20 402.60L638.20 401.15L636.35 399.30L638.20 397.45L638.20 396.00L639.65 396.00Z" fill="#d70a53"/>
<path d="M646.50 394.15L648.35 396.00L649.80 396.00L649.80 397.45L651.65 399.30L649.80 401.15L649.80 402.60L648.35 402.60L646.50 404.45L644.65 402.60L643.20 402.60L643.20 401.15L641.35 399.30L643.20 397.45L643.20 396.00L644.65 396.00Z" fill="#d70a53"/>
<path d="M651.50 394.15L653.35 396.00L654.80 396.00L654.80 397.45L656.65 399.30L654.80 401.15L654.80 402.60L653.35 402.60L651.50 404.45L649.65 402.60L648.20 402.60L648.20 401.15L646.35 399.30L648.20 397.45L648.20 396.00L649.65 396.00Z" fill="#d70a53"/>
<path d="M656.50 394.15L658.35 396.00L659.80 396.00L659.80 397.45L661.65 399.30L659.80 401.15L659.80 402.60L658.35 402.60L656.50 404.45L654.65 402.60L653.20 402.60L653.20 401.15L651.35 399.30L653.20 397.45L653.20 396.00L654.65 396.00Z" fill="#d70a53"/>
<rect x="656" y="70" width="1" height="329" fill="#d70a53"/>
<rect x="58" y="398.6" width="599" height="1.5" fill="#d70a53"/>
<rect x="650" y="87" width="6" height="1" fill="#d70a53"/>
<rect x="650" y="121" width="6" height="1" fill="#d70a53"/>
<rect x="650" y="156" width="6" height="1" fill="#d70a53"/>
<rect x="650" y="191" width="6" height="1" fill="#d70a53"/>
<rect x="650" y="225" width="6" height="1" fill="#d70a53"/>
<rect x="650" y="260" width="6" height="1" fill="#d70a53"/>
<rect x="650" y="295" width="6" height="1" fill="#d70a53"/>
<rect x="650" y="329" width="6" height="1" fill="#d70a53"/>
<rect x="650" y="364" width="6" height="1" fill="#d70a53"/>
<text x="53" y="93.2" text-anchor="end" fill="#262626" stroke="#262626" stroke-width="0.3" font-size="16">10</text>
<text x="52.6" y="127.87" text-anchor="end" fill="#262626" stroke="#262626" stroke-width="0.3" font-size="16">8</text>
<text x="52.6" y="162.54" text-anchor="end" fill="#262626" stroke="#262626" stroke-width="0.3" font-size="16">6</text>
<text x="52.6" y="197.21" text-anchor="end" fill="#262626" stroke="#262626" stroke-width="0.3" font-size="16">4</text>
<text x="52.6" y="231.88" text-anchor="end" fill="#262626" stroke="#262626" stroke-width="0.3" font-size="16">2</text>
<text x="52.6" y="266.55" text-anchor="end" fill="#262626" stroke="#262626" stroke-width="0.3" font-size="16">0</text>
<text x="52.6" y="301.22" text-anchor="end" fill="#262626" stroke="#262626" stroke-width="0.3" font-size="16">-<tspan dx="0.9">2</tspan></text>
<text x="52.6" y="335.89" text-anchor="end" fill="#262626" stroke="#262626" stroke-width="0.3" font-size="16">-<tspan dx="0.9">4</tspan></text>
<text x="52.6" y="370.56" text-anchor="end" fill="#262626" stroke="#262626" stroke-width="0.3" font-size="16">-<tspan dx="0.9">6</tspan></text>
<text x="52.6" y="405.23" text-anchor="end" fill="#262626" stroke="#262626" stroke-width="0.3" font-size="16">-<tspan dx="0.9">8</tspan></text>
<text x="661" y="93.2" fill="#d70a53" stroke="#d70a53" stroke-width="0.3" font-size="16">9</text>
<text x="661" y="127.87" fill="#d70a53" stroke="#d70a53" stroke-width="0.3" font-size="16">8</text>
<text x="661" y="162.54" fill="#d70a53" stroke="#d70a53" stroke-width="0.3" font-size="16">7</text>
<text x="661" y="197.21" fill="#d70a53" stroke="#d70a53" stroke-width="0.3" font-size="16">6</text>
<text x="661" y="231.88" fill="#d70a53" stroke="#d70a53" stroke-width="0.3" font-size="16">5</text>
<text x="661" y="266.55" fill="#d70a53" stroke="#d70a53" stroke-width="0.3" font-size="16">4</text>
<text x="661" y="301.22" fill="#d70a53" stroke="#d70a53" stroke-width="0.3" font-size="16">3</text>
<text x="661" y="335.89" fill="#d70a53" stroke="#d70a53" stroke-width="0.3" font-size="16">2</text>
<text x="661" y="370.56" fill="#d70a53" stroke="#d70a53" stroke-width="0.3" font-size="16">1</text>
<text x="661" y="405.23" fill="#d70a53" stroke="#d70a53" stroke-width="0.3" font-size="16">0</text>
<text x="57.5" y="419.6" text-anchor="middle" fill="#262626" stroke="#262626" stroke-width="0.3" font-size="16">07/01</text>
<text x="154.5" y="419.6" text-anchor="middle" fill="#262626" stroke="#262626" stroke-width="0.3" font-size="16">07/06</text>
<text x="250.5" y="419.6" text-anchor="middle" fill="#262626" stroke="#262626" stroke-width="0.3" font-size="16">07/11</text>
<text x="347.5" y="419.6" text-anchor="middle" fill="#262626" stroke="#262626" stroke-width="0.3" font-size="16">07/16</text>
<text x="443.5" y="419.6" text-anchor="middle" fill="#262626" stroke="#262626" stroke-width="0.3" font-size="16">07/21</text>
<text x="540.5" y="419.6" text-anchor="middle" fill="#262626" stroke="#262626" stroke-width="0.3" font-size="16">07/26</text>
<text x="636.5" y="419.6" text-anchor="middle" fill="#262626" stroke="#262626" stroke-width="0.3" font-size="16">07/31</text>
<text x="357" y="440.8" text-anchor="middle" fill="#262626" stroke="#262626" stroke-width="0.3" font-size="16" textLength="186.7" lengthAdjust="spacingAndGlyphs">Jul.01,2011 00:00:00 start</text>
<text x="397.5" y="458" text-anchor="middle" fill="#000" stroke="#000" stroke-width="0.08" font-size="8" textLength="503" lengthAdjust="spacingAndGlyphs">data file: /Users/raeder/DAI/ATM_forcXX/CAM6_setup/f.e21.FHIST_BGC.f09_025.CAM6assim.011/Diags_NTrS_2011-07/obs_diag_output.nc</text>
<text x="356.6" y="41.9" text-anchor="middle" fill="#000" stroke="#000" stroke-width="0.3" font-size="16" font-weight="bold" textLength="184.6" lengthAdjust="spacingAndGlyphs">Tropics 7 / 7 = 100.000%</text>
<text x="356.6" y="61.5" text-anchor="middle" fill="#000" stroke="#000" stroke-width="0.3" font-size="16" font-weight="bold" textLength="344.6" lengthAdjust="spacingAndGlyphs">AIRCRAFT_V_WIND_COMPONENT @ 150 hPa</text>
<text transform="translate(28,234.3) rotate(-90)" text-anchor="middle" fill="#262626" stroke="#262626" stroke-width="0.3" font-size="16" textLength="257.2" lengthAdjust="spacing">rmse and bias (model - observation)</text>
<text transform="translate(689,234.2) rotate(-90)" text-anchor="middle" fill="#d70a53" stroke="#d70a53" stroke-width="0.3" font-size="16" textLength="253.6" lengthAdjust="spacing"># of obs: o=possible; <tspan font-size="9.6" dy="-1" dx="0.3">∗</tspan><tspan dy="1" dx="1.6">=assimilated</tspan></text></svg>
</body></html>
